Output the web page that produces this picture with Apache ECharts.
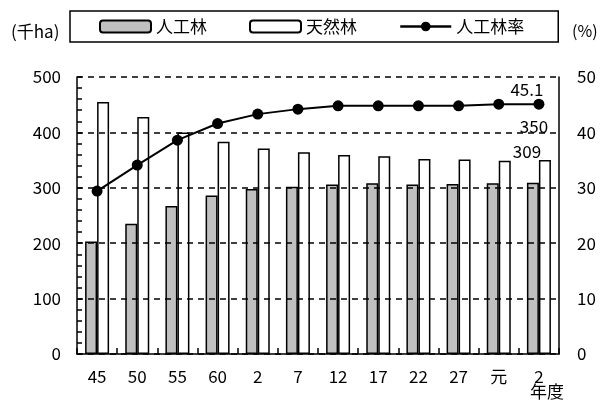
<!DOCTYPE html>
<html><head><meta charset="utf-8">
<script src="https://cdn.jsdelivr.net/npm/echarts@6/dist/echarts.min.js"></script>
<style>html,body{margin:0;padding:0;background:#fff}#c{width:604px;height:401px}</style>
</head><body><div id="c"></div>
<script>
const categories = ['45','50','55','60','2','7','12','17','22','27','元','2'];
const plantedForest = [203,235,267,286,298,302,306,308,306,307,308,309];
const naturalForest = [455,428,400,383,371,364,359,357,352,351,349,350];
const plantedRate = [29.4,34.1,38.6,41.6,43.3,44.2,44.8,44.8,44.8,44.8,45.1,45.1];
const leftTicks = [0,100,200,300,400,500];
const rightTicks = [0,10,20,30,40,50];

const FONT = '"Noto Sans CJK JP", "Noto Sans", sans-serif';
const last = categories.length - 1;
const chart = echarts.init(document.getElementById('c'), null, {renderer:'canvas'});
chart.setOption({
  animation:false,
  backgroundColor:'#fff',
  textStyle:{fontFamily:FONT,color:'#000'},
  grid:{left:77,right:45,top:77,bottom:47},
  legend:{
    left:70, top:11,
    padding:[7,34,7,29],
    borderColor:'#000', borderWidth:1.5,
    itemWidth:51, itemHeight:12, itemGap:42,
    textStyle:{fontSize:17,color:'#000',fontFamily:FONT},
    data:['人工林','天然林',{name:'人工林率',lineStyle:{width:2.5,color:'#000'}}]
  },
  xAxis:{
    type:'category', data:categories, z:10,
    axisLine:{show:true,lineStyle:{color:'#000',width:1.5}},
    axisTick:{show:true,interval:0,inside:true,length:6,lineStyle:{color:'#000',width:1.5}},
    axisLabel:{fontSize:17,color:'#000',margin:14,fontFamily:FONT}
  },
  yAxis:[{
    type:'value', min:leftTicks[0], max:leftTicks[leftTicks.length-1], interval:100, z:10,
    axisLine:{show:true,lineStyle:{color:'#000',width:1.5}},
    axisTick:{show:true,inside:true,length:5,lineStyle:{color:'#000',width:1.5}},
    minorTick:{show:true,splitNumber:5,length:5,lineStyle:{color:'#000',width:1.5}},
    splitLine:{show:true,lineStyle:{color:'#000',type:[6,5],width:1.5}},
    axisLabel:{fontSize:17,color:'#000',margin:16,fontFamily:FONT}
  },{
    type:'value', min:rightTicks[0], max:rightTicks[rightTicks.length-1], interval:10,
    axisLine:{show:true,lineStyle:{color:'#000',width:1.5}},
    axisTick:{show:false},
    splitLine:{show:false},
    axisLabel:{fontSize:17,color:'#000',margin:18,fontFamily:FONT}
  }],
  series:[{
    name:'人工林', type:'bar', data:plantedForest.map((v,i)=> i===last ? {value:v,label:{show:true,position:'top',offset:[-6,-18],fontSize:17,color:'#000'}} : v),
    barWidth:12, barGap:'0%',
    itemStyle:{color:'#c0c0c0',borderColor:'#000',borderWidth:1.5}
  },{
    name:'天然林', type:'bar', data:naturalForest.map((v,i)=> i===last ? {value:v,label:{show:true,position:'top',offset:[-11,-20],fontSize:17,color:'#000'}} : v),
    barWidth:12,
    itemStyle:{color:'#fff',borderColor:'#000',borderWidth:1.5}
  },{
    name:'人工林率', type:'line', yAxisIndex:1,
    data:plantedRate.map((v,i)=> i===last ? {value:v,label:{show:true,position:'top',offset:[-12,4],fontSize:17,color:'#000'}} : v),
    symbol:'circle', symbolSize:11,
    lineStyle:{color:'#000',width:2}, itemStyle:{color:'#000'}
  }],
  graphic:[
    {type:'text',left:11,top:23,style:{text:'(千ha)',fontSize:17,fill:'#000',fontFamily:FONT}},
    {type:'text',left:572,top:23,style:{text:'(%)',fontSize:16,fill:'#000',fontFamily:FONT}},
    {type:'text',left:530,top:383,style:{text:'年度',fontSize:17,fill:'#000',fontFamily:FONT}}
  ]
});
</script></body></html>
